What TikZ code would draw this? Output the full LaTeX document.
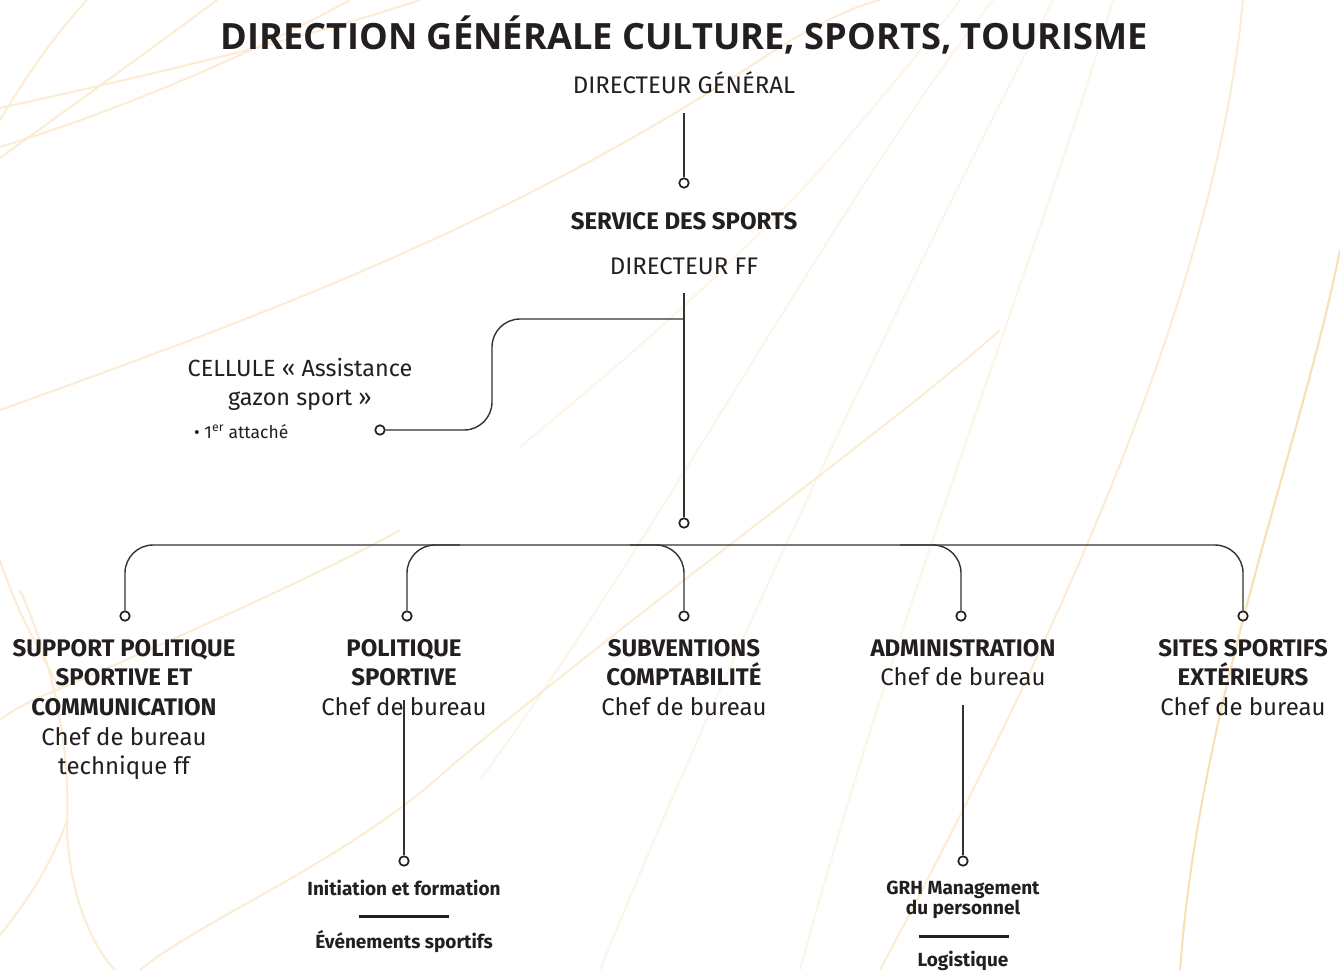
\documentclass[tikz,border=0pt]{standalone}
\usepackage{fontspec}
\setmainfont{Fira Sans}
\newfontfamily\titlefont{Open Sans}
\definecolor{ink}{RGB}{35,31,32}
\definecolor{wire}{RGB}{50,50,50}
\definecolor{beige}{RGB}{253,236,212}
\definecolor{faint}{RGB}{254,245,232}
\definecolor{amber}{RGB}{250,222,180}
\begin{document}
\begin{tikzpicture}[x=1pt,y=-1pt,
  conn/.style={draw=wire,line width=1.4pt},
  dot/.style={circle,draw=ink,fill=white,line width=1.7pt,minimum size=9.5pt,inner sep=0pt},
  bg/.style={draw=beige,line width=2pt},
  bgf/.style={draw=faint,line width=2pt},
  bgo/.style={draw=amber,line width=2pt},
  lbl/.style={align=center,inner sep=0pt,text=ink,font=\fontsize{24}{29.6}\selectfont,anchor=north},
  plain/.style={inner sep=0pt,text=ink,font=\fontsize{24}{29}\selectfont,anchor=base},
  small/.style={inner sep=0pt,text=ink,font=\fontsize{19}{19.5}\selectfont\bfseries,anchor=base,align=center},
  rule/.style={draw=ink,line width=3pt}]
\useasboundingbox (0,0) rectangle (1340,970);
\fill[white] (0,0) rectangle (1340,970);
% background curves
\draw[bg] (0,108) .. controls (150,75) and (300,40) .. (420,0);
\draw[bg] (0,158) .. controls (80,100) and (150,50) .. (217,0);
\draw[bg] (0,120) .. controls (30,70) and (55,35) .. (87,0);
\draw[bg] (0,147) .. controls (120,110) and (250,55) .. (350,0);
\draw[bg] (0,410) .. controls (250,320) and (500,230) .. (760,60) .. controls (820,20) and (860,5) .. (880,0);
\draw[bgf] (520,447) .. controls (600,380) and (700,300) .. (820,170) .. controls (880,100) and (930,40) .. (960,0);
\draw[bg] (1243,0) .. controls (1215,300) and (1050,650) .. (880,970);
\draw[bgf] (1113,0) .. controls (1040,250) and (900,600) .. (800,970);
\draw[bgf] (1053,0) .. controls (950,200) and (750,600) .. (600,970);
\draw[bgf] (993,0) .. controls (850,180) and (650,550) .. (480,780);
\draw[bgo] (1340,250) .. controls (1300,450) and (1200,700) .. (1180,970);
\draw[bg] (20,590) .. controls (60,680) and (70,760) .. (67,830) .. controls (70,900) and (95,950) .. (115,970);
\draw[bg] (67,820) .. controls (50,870) and (20,910) .. (0,935);
\draw[bg] (140,970) .. controls (200,920) and (350,860) .. (450,767) .. controls (650,600) and (900,420) .. (1000,330);
\draw[bg] (400,530) .. controls (330,570) and (150,650) .. (57,690) .. controls (30,700) and (10,712) .. (0,720);
\draw[bg] (0,560) .. controls (20,620) and (40,650) .. (60,690);
% title and top
\node[inner sep=0pt,text=ink,anchor=base,font=\titlefont\bfseries\fontsize{36.2}{40}\selectfont] (title) at (684,49) {DIRECTION GÉNÉRALE CULTURE, SPORTS, TOURISME};
\node[plain] (dg) at (684,93) {DIRECTEUR GÉNÉRAL};
\coordinate (dgb) at (684,113);
\node[dot] (c1) at (684,183) {};
\draw[conn] (dgb) -- (c1.north);
\node[plain,font=\fontsize{24}{29}\selectfont\bfseries] (ss) at (684,229) {SERVICE DES SPORTS};
\node[plain] (ff) at (684,274) {DIRECTEUR FF};
\coordinate (ffb) at (684,293);
\node[dot] (c2) at (684,523) {};
\draw[conn] (ffb) -- (c2.north);
\coordinate (j1) at (684,319);
% cellule
\node[plain,align=center,anchor=north,font=\fontsize{23.4}{29}\selectfont] (cel) at (300,358) {CELLULE « Assistance\\gazon sport »};
\node[inner sep=0pt,text=ink,anchor=base west,font=\fontsize{17.5}{19}\selectfont] (att) at (194,438) {\textbullet\ 1\textsuperscript{er} attaché};
\node[dot] (cd) at (380,430) {};
\draw[conn,rounded corners=28pt] (j1) -- (492,319) -- (492,430) -- (cd.east);
% bus and drops
\node[dot] (d1) at (125,616) {};
\node[dot] (d2) at (407,616) {};
\node[dot] (d3) at (684,616) {};
\node[dot] (d4) at (961,616) {};
\node[dot] (d5) at (1243,616) {};
\draw[conn,rounded corners=28pt] (d1.north) -- (125,545) -- (1243,545) -- (d5.north);
\draw[conn,rounded corners=28pt] (d2.north) |- (460,545);
\draw[conn,rounded corners=28pt] (d3.north) |- (630,545);
\draw[conn,rounded corners=28pt] (d4.north) |- (900,545);
% unit labels
\node[lbl] (u1) at (124,639) {\textbf{SUPPORT POLITIQUE}\\\textbf{SPORTIVE ET}\\\textbf{COMMUNICATION}\\Chef de bureau\\technique ff};
\node[lbl] (u2) at (404,639) {\textbf{POLITIQUE}\\\textbf{SPORTIVE}\\Chef de bureau};
\node[lbl] (u3) at (684,639) {\textbf{SUBVENTIONS}\\\textbf{COMPTABILITÉ}\\Chef de bureau};
\node[lbl] (u4) at (963,639) {\textbf{ADMINISTRATION}\\Chef de bureau};
\node[lbl] (u5) at (1243,639) {\textbf{SITES SPORTIFS}\\\textbf{EXTÉRIEURS}\\Chef de bureau};
% sub units
\coordinate (u2b) at (404,700);
\node[dot] (p1) at (404,861) {};
\draw[conn] (u2b) -- (p1.north);
\node[small] (s1) at (404,895) {Initiation et formation};
\coordinate (r1a) at (359,916);
\coordinate (r1b) at (449,916);
\draw[rule] (r1a) -- (r1b);
\node[small] (s2) at (404,948) {Événements sportifs};
\coordinate (u4b) at (963,705);
\node[dot] (p2) at (963,861) {};
\draw[conn] (u4b) -- (p2.north);
\node[small,anchor=north] (s3) at (963,881) {GRH Management\\du personnel};
\coordinate (r2a) at (919,936);
\coordinate (r2b) at (1009,936);
\draw[rule] (r2a) -- (r2b);
\node[small] (s4) at (963,966) {Logistique};
\end{tikzpicture}
\end{document}
